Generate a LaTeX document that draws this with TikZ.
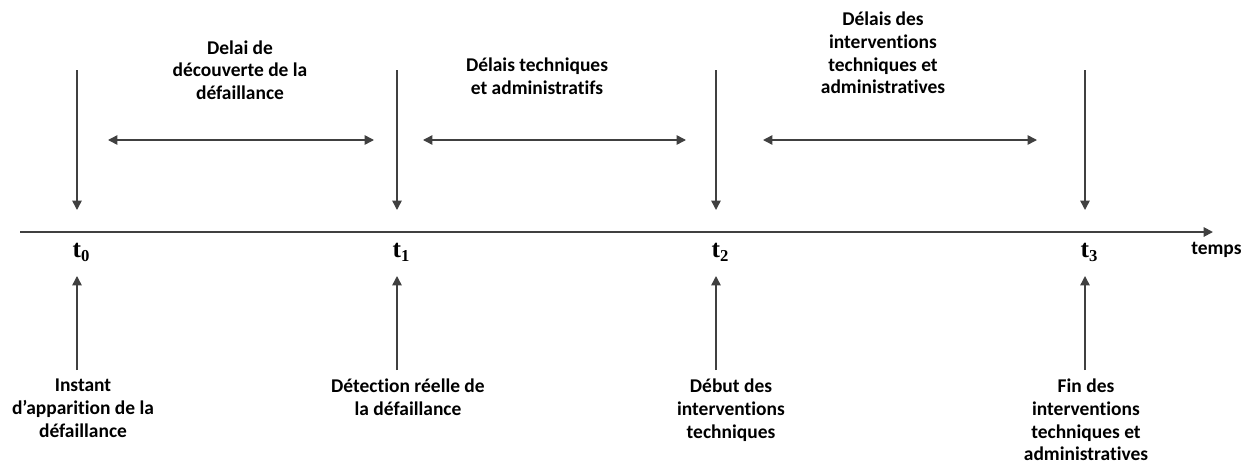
\documentclass[tikz,border=0pt]{standalone}
\usepackage{fontspec}
\setmainfont{Carlito}[RawFeature=-liga]
\newfontfamily\tfont{Liberation Serif}
\usetikzlibrary{arrows.meta,positioning}
\definecolor{linegray}{HTML}{404040}
\newcommand{\tlab}[1]{\tfont\bfseries t\raisebox{-0.35ex}{\fontsize{12.5}{12.5}\selectfont #1}}

\begin{document}
\begin{tikzpicture}[x=0.75pt,y=-0.75pt,
    lbl/.style={font=\bfseries\fontsize{14.6}{17}\selectfont,align=center,inner sep=0pt},
    tl/.style={font=\fontsize{19}{19}\selectfont,inner sep=0pt},
    arr/.style={linegray,line width=1.1pt,-{Triangle[length=7pt,width=7pt]}},
    darr/.style={linegray,line width=1.1pt,{Triangle[length=7pt,width=7pt]}-{Triangle[length=7pt,width=7pt]}}]
  \useasboundingbox (0,0) rectangle (1253,464);
  % time axis
  \coordinate (ax0) at (20,232);
  \coordinate (ax1) at (1213,232);
  \draw[arr,line width=1.4pt] (ax0) -- (ax1);
  \node[lbl,anchor=west] (temps) at (1191,250) {temps};
  % instants
  \node[tl] (t0) at (81,252) {\tlab{0}};
  \node[tl] (t1) at (401,252) {\tlab{1}};
  \node[tl] (t2) at (720,252) {\tlab{2}};
  \node[tl] (t3) at (1089,252) {\tlab{3}};
  \foreach \n/\x in {0/77,1/397,2/716,3/1085} {
    \coordinate (s\n) at (\x,70);
    \coordinate (e\n) at (\x,210);
    \coordinate (u\n) at (\x,276);
    \draw[arr] (s\n) -- (e\n);
  }
  % delays
  \node[lbl] (d1) at (240,70) {Delai de\\découverte de la\\défaillance};
  \node[lbl] (d2) at (537,76) {Délais techniques\\et administratifs};
  \node[lbl] (d3) at (883,53) {Délais des\\interventions\\techniques et\\administratives};
  \coordinate (a1) at (108,140); \coordinate (b1) at (374,140);
  \coordinate (a2) at (423,140); \coordinate (b2) at (686,140);
  \coordinate (a3) at (763,140); \coordinate (b3) at (1037,140);
  \foreach \n in {1,2,3}
    \draw[darr] (a\n) -- (b\n);
  % events
  \node[lbl,anchor=north] (ev0) at (83,379) {Instant\\d’apparition de la\\défaillance};
  \node[lbl,anchor=north] (ev1) at (408,379) {Détection réelle de\\la défaillance};
  \node[lbl,anchor=north] (ev2) at (731,379) {Début des\\interventions\\techniques};
  \node[lbl,anchor=north] (ev3) at (1086,379) {Fin des\\interventions\\techniques et\\administratives};
  \draw[arr] (ev0.north -| u0) ++(0,-9) -- (u0);
  \draw[arr] (ev1.north -| u1) ++(0,-9) -- (u1);
  \draw[arr] (ev2.north -| u2) ++(0,-9) -- (u2);
  \draw[arr] (ev3.north -| u3) ++(0,-9) -- (u3);
\end{tikzpicture}
\end{document}
